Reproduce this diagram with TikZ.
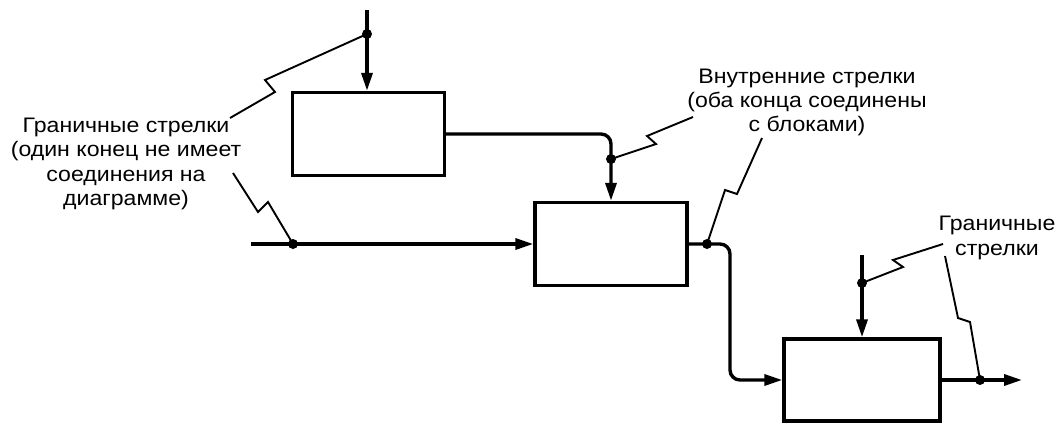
\documentclass[tikz,border=0pt]{standalone}
\usepackage{fontspec}
\setmainfont{Liberation Sans}[FakeStretch=1.1]
\usetikzlibrary{arrows.meta}
\begin{document}
\begin{tikzpicture}[x=1pt,y=-1pt,
  blk/.style={draw,line width=3.4pt,minimum width=152pt,minimum height=83pt,inner sep=0pt},
  flow/.style={line width=3.4pt,-{Triangle[length=18pt,width=11pt]},rounded corners=10pt},
  bolt/.style={line width=1.9pt},
  jdot/.style={circle,fill,inner sep=0pt,minimum size=10pt},
  lbl/.style={align=center,font=\fontsize{21}{24.3}\selectfont,inner sep=0pt}]
\useasboundingbox (0,0) rectangle (1060,423);
\node[blk] (b1) at (368.5,134) {};
\node[blk] (b2) at (611,244) {};
\node[blk,minimum width=156pt,minimum height=82pt] (b3) at (862,380) {};
% labels
\node[lbl] (l1) at (126,164) {Граничные стрелки\\(один конец не имеет\\соединения на\\диаграмме)};
\node[lbl] (l2) at (807,102.5) {Внутренние стрелки\\(оба конца соединены\\с блоками)};
\node[lbl] (l3) at (997,238) {Граничные\\стрелки};
% flows
\coordinate (t1) at (367,10);
\draw[flow] (t1) -- (t1 |- b1.north);
\draw[flow] (b1.east) -- (b2.north |- b1.east) -- (b2.north);
\coordinate (in2) at (251,244);
\draw[flow] (in2) -- (in2 -| b2.west);
\draw[flow] (b2.east) -- (730,244) -- (730,380) -- (b3.west);
\coordinate (t3) at (862,255);
\draw[flow] (t3) -- (t3 |- b3.north);
\coordinate (o3) at (1022,380);
\draw[flow] (b3.east) -- (o3);
% dots
\node[jdot] (d1) at (367,34) {};
\node[jdot] (d2) at (293,244) {};
\node[jdot] (d3) at (611,159) {};
\node[jdot] (d4) at (707,244) {};
\node[jdot] (d5) at (862,283) {};
\node[jdot] (d6) at (980,380) {};
% bolts
\draw[bolt] (230,118) -- (275,92) -- (265,80) -- (d1.center);
\draw[bolt] (233,173) -- (258,212) -- (268,202) -- (d2.center);
\draw[bolt] (d3.center) -- (656,144) -- (647,136) -- (693,117);
\draw[bolt] (d4.center) -- (725,190) -- (737,194) -- (762,138);
\draw[bolt] (d5.center) -- (903,267) -- (893,260) -- (943,244);
\draw[bolt] (d6.center) -- (970,322) -- (958,318) -- (945,256);
\end{tikzpicture}
\end{document}
